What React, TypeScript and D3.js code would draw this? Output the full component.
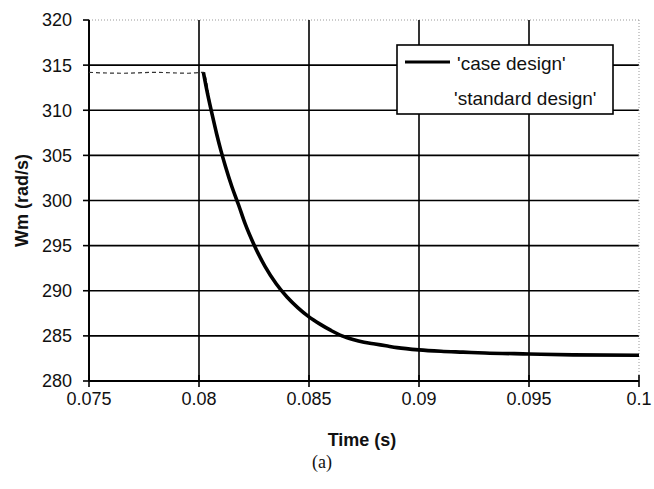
import React from "react";
import * as d3 from "d3";

const xTicks = [0.075, 0.08, 0.085, 0.09, 0.095, 0.1];
const xTickLabels = ["0.075", "0.08", "0.085", "0.09", "0.095", "0.1"];
const yTicks = [280, 285, 290, 295, 300, 305, 310, 315, 320];

const caseTime = [0.0802, 0.0804, 0.0806, 0.0808, 0.081, 0.0812, 0.0815, 0.0818, 0.0821, 0.0825, 0.083, 0.0835, 0.084, 0.0845, 0.085, 0.0855, 0.086, 0.0865, 0.087, 0.0875, 0.088, 0.0885, 0.089, 0.09, 0.091, 0.092, 0.093, 0.095, 0.097, 0.1];
const caseWm = [314.2, 311.7, 309.5, 307.4, 305.5, 303.8, 301.5, 299.5, 297.4, 295.1, 292.7, 290.8, 289.3, 288.1, 287.1, 286.3, 285.6, 285.0, 284.6, 284.3, 284.1, 283.9, 283.7, 283.45, 283.3, 283.2, 283.1, 283.0, 282.9, 282.85];

const stdTime = [0.075, 0.0765, 0.078, 0.0795, 0.0802, 0.0806, 0.081, 0.0815, 0.0821, 0.083, 0.084, 0.085, 0.086, 0.087, 0.088, 0.09, 0.092, 0.095, 0.1];
const stdWm = [314.2, 314.1, 314.2, 314.1, 314.2, 309.5, 305.5, 301.5, 297.4, 292.7, 289.3, 287.1, 285.6, 284.6, 284.1, 283.45, 283.2, 283.0, 282.85];

const legendLabels = ["'case design'", "'standard design'"];

export default function App() {
  const left = 89, right = 639, top = 20, bottom = 381;
  const x = d3.scaleLinear().domain([0.075, 0.1]).range([left, right]);
  const y = d3.scaleLinear().domain([280, 320]).range([bottom, top]);
  const line = d3.line<[number, number]>().x(d => x(d[0])).y(d => y(d[1])).curve(d3.curveMonotoneX);
  const caseData = caseTime.map((t, i) => [t, caseWm[i]] as [number, number]);
  const stdData = stdTime.map((t, i) => [t, stdWm[i]] as [number, number]);
  const font = "Arial, 'Liberation Sans', sans-serif";
  return (
    <svg width={654} height={489} style={{ position: "absolute", left: 0, top: 0, background: "#fff" }}>
      <rect x={0} y={0} width={654} height={489} fill="#fff" />
      {/* grid */}
      {yTicks.map(v => (
        <line key={"gy" + v} x1={left} x2={right} y1={y(v)} y2={y(v)}
          stroke={v === 320 ? "#999" : "#000"} strokeWidth={v === 320 ? 1 : 1.6}
          strokeDasharray={v === 320 ? "1,2" : undefined} />
      ))}
      {xTicks.map(v => (
        <line key={"gx" + v} x1={x(v)} x2={x(v)} y1={top} y2={bottom}
          stroke={v === 0.1 ? "#999" : "#000"} strokeWidth={v === 0.1 ? 1 : 1.6}
          strokeDasharray={v === 0.1 ? "1,2" : undefined} />
      ))}
      {/* axes */}
      <line x1={left} x2={left} y1={top} y2={bottom} stroke="#000" strokeWidth={1.8} />
      <line x1={left} x2={right} y1={bottom} y2={bottom} stroke="#000" strokeWidth={1.8} />
      {yTicks.map(v => (
        <g key={"ty" + v}>
          <line x1={left - 6} x2={left} y1={y(v)} y2={y(v)} stroke="#000" strokeWidth={1.6} />
          <text x={72} y={y(v)} dy="0.36em" textAnchor="end" fontFamily={font} fontSize={18} fill="#111">{v}</text>
        </g>
      ))}
      {xTicks.map((v, i) => (
        <g key={"tx" + v}>
          <line x1={x(v)} x2={x(v)} y1={bottom - 6} y2={bottom + 6} stroke="#000" strokeWidth={1.6} />
          <text x={x(v)} y={399} dy="0.36em" textAnchor="middle" fontFamily={font} fontSize={18} fill="#111">{xTickLabels[i]}</text>
        </g>
      ))}
      {/* series */}
      <path d={line(stdData) || ""} fill="none" stroke="#333" strokeWidth={1.2} strokeDasharray="4,3" />
      <path d={line(caseData) || ""} fill="none" stroke="#000" strokeWidth={3.6} strokeLinejoin="round" />
      {/* legend */}
      <rect x={397} y={45} width={216} height={69} fill="#fff" stroke="#000" strokeWidth={1.6} />
      <line x1={405} x2={450} y1={62} y2={62} stroke="#000" strokeWidth={3.2} />
      <text x={457} y={63} dy="0.36em" fontFamily={font} fontSize={19} fill="#111">{legendLabels[0]}</text>
      <text x={454} y={98} dy="0.36em" fontFamily={font} fontSize={19} fill="#111">{legendLabels[1]}</text>
      {/* titles */}
      <text x={362} y={440} dy="0.36em" textAnchor="middle" fontFamily={font} fontSize={18} fontWeight="bold" fill="#111">Time (s)</text>
      <text x={322} y={462} dy="0.36em" textAnchor="middle" fontFamily="'Liberation Serif', 'Times New Roman', serif" fontSize={18} fill="#111">(a)</text>
      <text transform={`translate(22,${(top + bottom) / 2}) rotate(-90)`} dy="0.36em" textAnchor="middle" fontFamily={font} fontSize={18} fontWeight="bold" fill="#111">Wm (rad/s)</text>
    </svg>
  );
}
